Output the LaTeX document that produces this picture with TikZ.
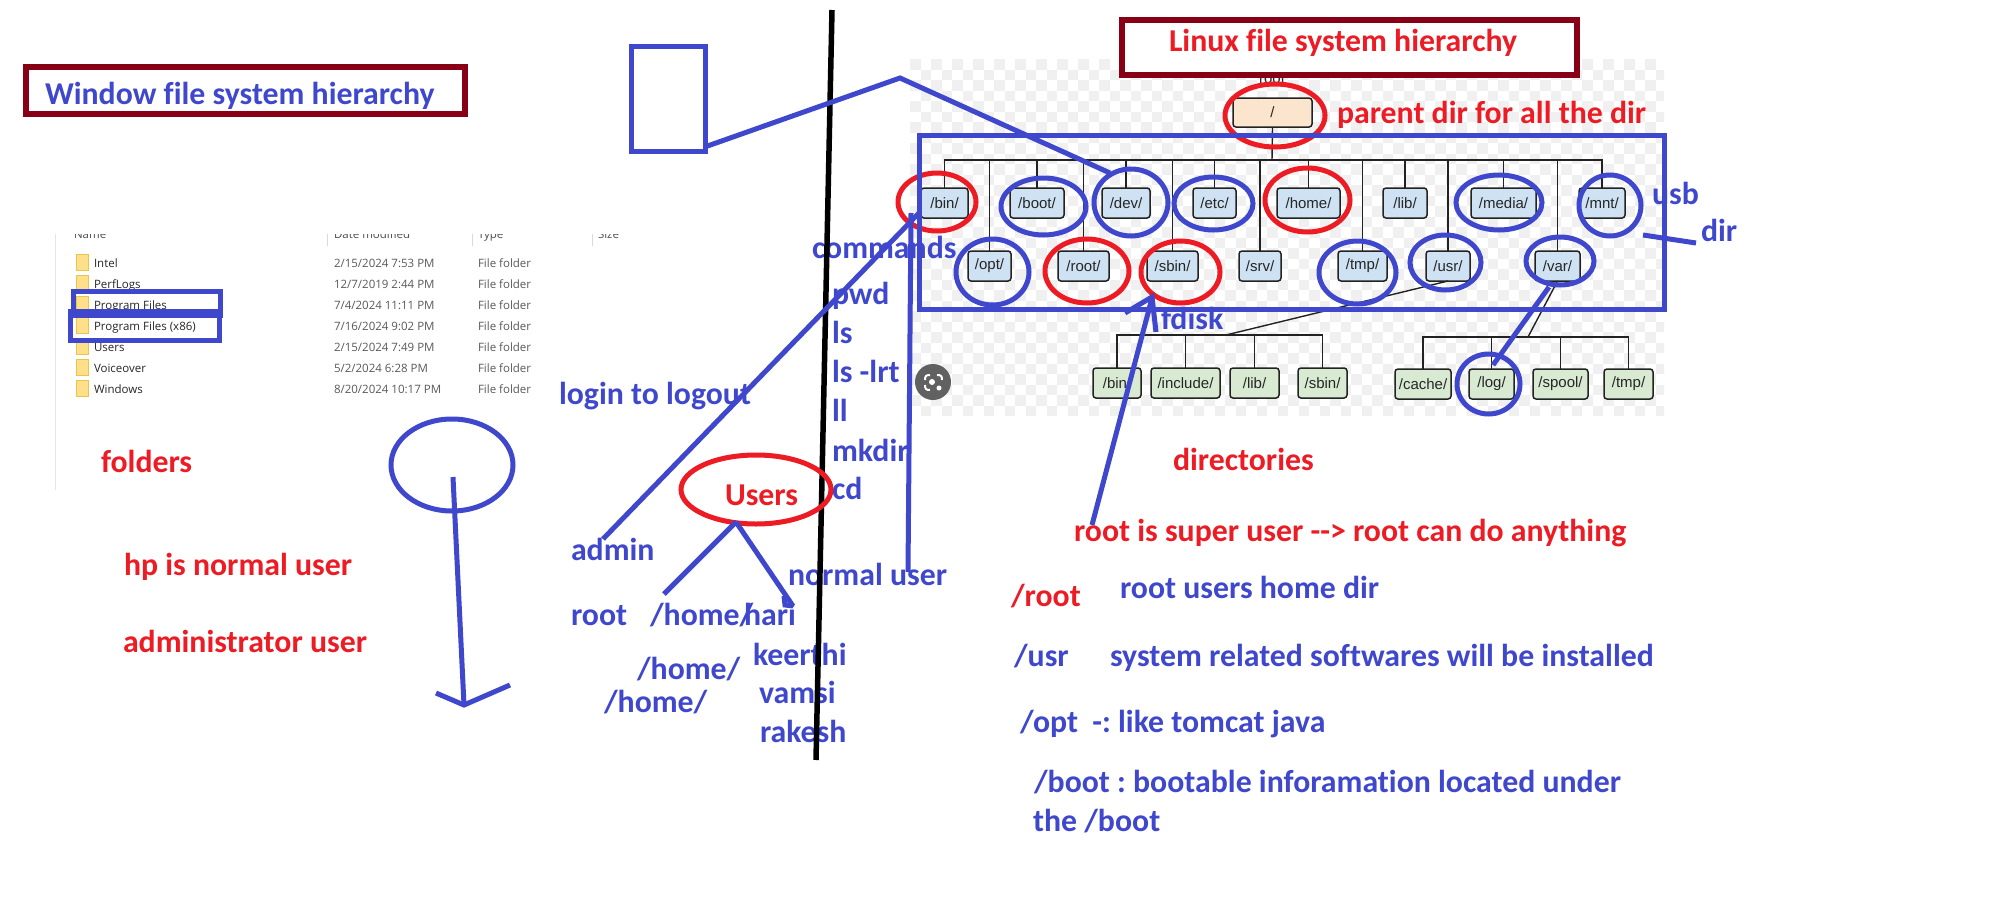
\documentclass[tikz,border=0pt]{standalone}
\usepackage{fontspec}
\setmainfont[Ligatures=NoCommon]{Carlito}
\newfontfamily\shotfont{Open Sans}
\newfontfamily\treefont{Liberation Sans}
\usetikzlibrary{shapes.geometric}
\definecolor{inkblue}{HTML}{3F48CC}
\definecolor{inkred}{HTML}{ED1C24}
\definecolor{inkmaroon}{HTML}{880015}
\definecolor{checkgray}{HTML}{F0F0F0}
\definecolor{peach}{HTML}{FCE5CD}
\definecolor{dirblue}{HTML}{CFE2F3}
\definecolor{dirgreen}{HTML}{D9EAD3}
\definecolor{lineblack}{HTML}{222222}
\definecolor{foldery}{HTML}{FFE08A}
\definecolor{foldere}{HTML}{EBC34F}
\frenchspacing
\tikzset{
  x=1pt,y=-1pt,
  hand/.style={font=\fontsize{31.8}{32}\selectfont\bfseries,anchor=base west,inner sep=0pt,outer sep=0pt},
  bluetext/.style={hand,text=inkblue},
  redtext/.style={hand,text=inkred},
  stroke/.style={draw=inkblue,line width=5pt},
  tree/.style={draw=lineblack,line width=1.4pt},
  dirbox/.style={draw=lineblack,line width=1.5pt,rounded corners=3pt,inner sep=0pt,outer sep=0pt,
    font=\fontsize{15}{15}\selectfont\treefont,text=black!85},
  ring/.style={ellipse,draw=#1,line width=5pt,inner sep=0pt,outer sep=0pt},
  titlebox/.style={draw=inkmaroon,line width=5.5pt,fill=white,inner sep=0pt,outer sep=0pt},
  shot/.style={font=\fontsize{11.5}{11.5}\selectfont\shotfont,anchor=base west,inner sep=0pt,outer sep=0pt},
}
\newcommand{\dirnode}[7]{\node[dirbox,fill=#7,minimum width={(#4-#2)*1pt},minimum height={(#5-#3)*1pt}] (#1) at ({(#2+#4)/2},{(#3+#5)/2}) {#6};}
\newcommand{\ringnode}[6]{\node[ring=#6,minimum width={(#4-#2-2)*1pt},minimum height={(#5-#3-2)*1pt}] (#1) at ({(#2+#4)/2},{(#3+#5)/2}) {};}
\newcommand{\rectnode}[6]{\node[#6,minimum width={(#4-#2)*1pt},minimum height={(#5-#3)*1pt}] (#1) at ({(#2+#4)/2},{(#3+#5)/2}) {};}
\begin{document}
\begin{tikzpicture}
\useasboundingbox (0,0) rectangle (2000,905);
\fill[white] (0,0) rectangle (2000,905);

% checkerboard behind the tree
\begin{scope}
\clip (910,59) rectangle (1664,415);
\foreach \k in {-66,...,5}{
  \foreach \r in {0,...,33}{
    \ifodd\numexpr\k+\r\relax\else
      \fill[checkgray] ({1603.3+10.5*\k},{59+10.5*\r}) rectangle ++(10.5,10.5);
    \fi
  }
}
\end{scope}

% tree
\node[font=\fontsize{15}{15}\selectfont\treefont,text=black!85] (rootlabel) at (1272,79) {root};
\dirnode{slash}{1233}{98}{1312}{127}{/}{peach}
\dirnode{bin}{921}{188}{968}{218}{/bin/}{dirblue}
\dirnode{boot}{1010}{188}{1064}{218}{/boot/}{dirblue}
\dirnode{dev}{1102}{188}{1150}{218}{/dev/}{dirblue}
\dirnode{etc}{1193}{188}{1236}{218}{/etc/}{dirblue}
\dirnode{home}{1277}{188}{1340}{218}{/home/}{dirblue}
\dirnode{lib}{1383}{188}{1427}{218}{/lib/}{dirblue}
\dirnode{media}{1471}{188}{1536}{218}{/media/}{dirblue}
\dirnode{mnt}{1579}{188}{1625}{218}{/mnt/}{dirblue}
\dirnode{opt}{968}{251}{1011}{281}{/opt/}{dirblue}
\dirnode{rootd}{1058}{251}{1109}{281}{/root/}{dirblue}
\dirnode{sbin}{1147}{251}{1198}{281}{/sbin/}{dirblue}
\dirnode{srv}{1239}{251}{1281}{281}{/srv/}{dirblue}
\dirnode{tmp}{1338}{251}{1387}{281}{/tmp/}{dirblue}
\dirnode{usr}{1426}{251}{1470}{281}{/usr/}{dirblue}
\dirnode{var}{1535}{251}{1580}{281}{/var/}{dirblue}
\dirnode{ubin}{1093}{368}{1141}{398}{/bin/}{dirgreen}
\dirnode{uinc}{1151}{368}{1220}{398}{/include/}{dirgreen}
\dirnode{ulib}{1230}{368}{1279}{398}{/lib/}{dirgreen}
\dirnode{usbin}{1298}{368}{1347}{398}{/sbin/}{dirgreen}
\dirnode{vcache}{1395}{369}{1451}{399}{/cache/}{dirgreen}
\dirnode{vlog}{1469}{369}{1514}{399}{/log/}{dirgreen}
\dirnode{vspool}{1533}{369}{1588}{399}{/spool/}{dirgreen}
\dirnode{vtmp}{1604}{369}{1653}{399}{/tmp/}{dirgreen}
\coordinate (hub) at (1272,160);
\coordinate (uhub) at (1226,335);
\coordinate (vhub) at (1528,337);
\draw[tree] (slash.south) -- (hub);
\draw[tree] (bin.north) |- (hub) -| (mnt.north);
\foreach \n in {boot,dev,etc,home,lib,media,opt,rootd,sbin,srv,tmp,usr,var}{
  \draw[tree] (\n.north) -- (\n.north |- hub);
}
\draw[tree] (usr.south) -- (uhub);
\draw[tree] (var.south) -- (vhub);
\draw[tree] (ubin.north) |- (uhub) -| (usbin.north);
\draw[tree] (uinc.north) -- (uinc.north |- uhub);
\draw[tree] (ulib.north) -- (ulib.north |- uhub);
\draw[tree] (vcache.north) |- (vhub) -| (vtmp.north);
\draw[tree] (vlog.north) -- (vlog.north |- vhub);
\draw[tree] (vspool.north) -- (vspool.north |- vhub);

% camera badge
\node[circle,fill=black!62,minimum size=36pt,inner sep=0pt] (badge) at (933,382) {};
\begin{scope}[white,line width=2pt]
\draw (925,380) .. controls (925,376) and (926,375) .. (930,375);
\draw (937,375) .. controls (941,375) and (942,376) .. (942,380);
\draw (925,385) .. controls (925,389) and (926,390) .. (930,390);
\end{scope}
\fill[white] (932,382) circle (3);
\fill[white] (939,388) circle (2.5);

% screenshot of the folder list
\begin{scope}
\clip (50,234) rectangle (700,500);
\node[shot,text=black!70] (hname) at (74,238) {Name};
\node[shot,text=black!70] (hdate) at (334,238) {Date modified};
\node[shot,text=black!70] (htype) at (478,238) {Type};
\node[shot,text=black!70] (hsize) at (598,238) {Size};
\draw[black!15,line width=1pt] (327.5,234) -- (327.5,246) (472,234) -- (472,246) (592,234) -- (592,246);
\draw[black!10,line width=1pt] (55,234) -- (55,490);
\end{scope}
\foreach \ttl/\dt/\yy in {Intel/2\slash 15\slash 2024 7:53 PM/267,PerfLogs/12\slash 7\slash 2019 2:44 PM/288,Program Files/7\slash 4\slash 2024 11:11 PM/309,Program Files (x86)/7\slash 16\slash 2024 9:02 PM/330,Users/2\slash 15\slash 2024 7:49 PM/351,Voiceover/5\slash 2\slash 2024 6:28 PM/372,Windows/8\slash 20\slash 2024 10:17 PM/393}{
  \fill[foldery,draw=foldere,line width=0.8pt] (76,\yy-13) rectangle (88,\yy+3);
  \node[shot,text=black!85] at (94,\yy) {\ttl};
  \node[shot,text=black!65] at (334,\yy) {\dt};
  \node[shot,text=black!65] at (478,\yy) {File folder};
}

% titles
\rectnode{wintitle}{26}{67}{465}{114}{titlebox}
\rectnode{lintitle}{1122}{20}{1577}{75}{titlebox}
\node[bluetext] (wintext) at (45,104) {Window file system hierarchy};
\node[redtext] (lintext) at (1169,51) {Linux file system hierarchy};

% handwritten labels
\node[redtext] (parent) at (1337,123) {parent dir for all the dir};
\node[bluetext] (usb) at (1652,204) {usb};
\node[bluetext] (dirw) at (1701,241) {dir};
\node[bluetext] (fdisk) at (1161,329) {fdisk};
\node[bluetext] (cmds) at (812,258) {commands};
\node[bluetext] (pwd) at (832,304) {pwd};
\node[bluetext] (ls) at (832,343) {ls};
\node[bluetext] (lslrt) at (832,382) {ls -lrt};
\node[bluetext] (ll) at (832,421) {ll};
\node[bluetext] (mkdir) at (832,461) {mkdir};
\node[bluetext] (cd) at (832,499) {cd};
\node[bluetext] (login) at (559,404) {login to logout};
\node[redtext] (users) at (725,505) {Users};
\node[bluetext] (admin) at (571,560) {admin};
\node[bluetext] (rootw) at (571,625) {root};
\node[bluetext] (homea) at (650,625) {/home/};
\node[bluetext] (hari) at (744,625) {hari};
\node[bluetext] (home2) at (637,679) {/home/};
\node[bluetext] (home3) at (604,712) {/home/};
\node[bluetext] (keer) at (753,665) {keerthi};
\node[bluetext] (vamsi) at (759,703) {vamsi};
\node[bluetext] (rakesh) at (760,742) {rakesh};
\node[bluetext] (normal) at (788,585) {normal user};
\node[redtext] (folders) at (101,472) {folders};
\node[redtext] (hp) at (124,575) {hp is normal user};
\node[redtext] (adminu) at (123,652) {administrator user};
\node[redtext] (dirs) at (1173,470) {directories};
\node[redtext] (super) at (1074,541) {root is super user -{}-{}> root can do anything};
\node[redtext] (rootp) at (1011,606) {/root};
\node[bluetext] (rooth) at (1120,598) {root users home dir};
\node[bluetext] (usrp) at (1014,666) {/usr};
\node[bluetext] (sysrel) at (1110,666) {system related softwares will be installed};
\node[bluetext] (optp) at (1020,732) {/opt \ -: like tomcat java};
\node[bluetext] (bootp) at (1034,792) {/boot : bootable inforamation located under};
\node[bluetext] (bootq) at (1033,831) {the /boot};

% divider
\coordinate (divtop) at (832,10);
\coordinate (divbot) at (816,760);
\draw[black,line width=5.5pt] (divtop) -- (divbot);

% rings
\ringnode{rslash}{1224}{83}{1326}{148}{inkred}
\ringnode{rbin}{897}{172}{977}{232}{inkred}
\ringnode{rboot}{1000}{177}{1087}{236}{inkblue}
\ringnode{rdev}{1093}{168}{1169}{237}{inkblue}
\ringnode{retc}{1173}{176}{1254}{231}{inkblue}
\ringnode{rhome}{1264}{167}{1351}{233}{inkred}
\ringnode{rmedia}{1455}{174}{1543}{231}{inkblue}
\ringnode{rmnt}{1578}{174}{1642}{237}{inkblue}
\ringnode{ropt}{955}{238}{1030}{306}{inkblue}
\ringnode{rrootd}{1044}{238}{1130}{304}{inkred}
\ringnode{rsbin}{1140}{240}{1221}{304}{inkred}
\ringnode{rtmp}{1318}{240}{1397}{305}{inkblue}
\ringnode{rusr}{1409}{234}{1482}{291}{inkblue}
\ringnode{rvar}{1525}{236}{1595}{286}{inkblue}
\ringnode{rlog}{1456}{353}{1521}{415}{inkblue}
\ringnode{rusers}{680}{454}{832}{525}{inkred}
\ringnode{rwin}{390}{418}{514}{512}{inkblue}

% blue rectangles
\draw[stroke] (919.5,135.5) rectangle (1664.5,309.5);
\rectnode{bluebox}{631}{46}{705}{151.5}{stroke}
\rectnode{pf}{73.5}{291}{220.5}{315}{stroke}
\rectnode{pfx}{70.5}{311.5}{219.5}{340.5}{stroke}

% pen strokes
\coordinate (apex) at (900,78);
\draw[stroke] (bluebox.south east) ++(0,-8) -- (apex) -- (1110,173);
\coordinate (binfoot) at (919,213);
\coordinate (adminfoot) at (603,539);
\draw[stroke] (adminfoot) -- (binfoot);
\coordinate (normfoot) at (908,572);
\coordinate (normtop) at (911,213);
\draw[stroke] (normfoot) -- (normtop);
\coordinate (usersfoot) at (736,522);
\draw[stroke] (usersfoot) -- (664,594);
\draw[stroke] (usersfoot) -- (793,606);
\draw[stroke] (784,596) -- (785,605) -- (793,606);
\draw[stroke] (1549,287) -- (1493,365);
\draw[stroke] (1092,525) -- (1152,298);
\draw[stroke] (1125,313) -- (1152,297) -- (1156,332);
\draw[stroke] (1643,235) -- (1696,243);
\coordinate (winfoot) at (464,705);
\draw[stroke] (453,477) -- (winfoot);
\draw[stroke] (436,693) -- (winfoot) -- (510,685);
\end{tikzpicture}
\end{document}
